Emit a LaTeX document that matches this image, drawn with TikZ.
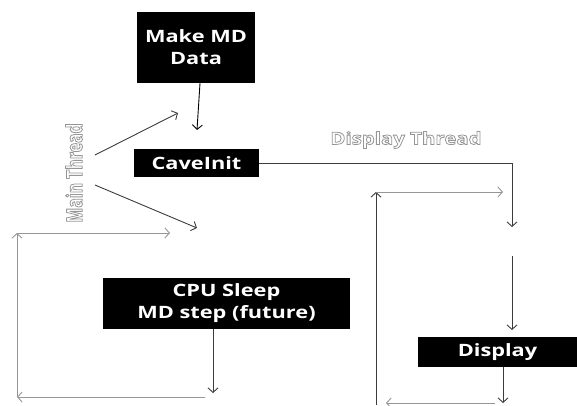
\documentclass[tikz,border=0pt]{standalone}
\usepackage{fontspec}
\setsansfont{Open Sans}
\newfontfamily\boxfont{Open Sans}[FakeStretch=1.28]
\newfontfamily\thrfont{Open Sans}[FakeStretch=1.2]
\newfontfamily\thrrotfont{Open Sans}[FakeStretch=0.72]
\usetikzlibrary{arrows.meta}
\definecolor{linedark}{RGB}{60,60,60}
\definecolor{loopgrey}{RGB}{150,150,150}
\definecolor{threadgrey}{RGB}{150,150,150}
\tikzset{
  blk/.style={rectangle, fill=black, text=white, align=center, inner sep=0pt,
    font=\boxfont\bfseries\fontsize{17}{22}\selectfont},
  arr/.style={-{Straight Barb[length=4.5pt,width=10pt]}, line width=0.9pt, draw=linedark},
  arrk/.style={arr, draw=black},
  looparr/.style={arr, draw=loopgrey},
  thread/.style={text=threadgrey, inner sep=0pt},
}
% outlined lettering (text render mode 1)
\newcommand{\thrtext}[1]{\special{pdf:literal direct 1 Tr 0.8 w}#1\special{pdf:literal direct 0 Tr}}

\begin{document}
\begin{tikzpicture}[x=1pt,y=-1pt]
  \useasboundingbox (0,0) rectangle (577,406);
  % boxes
  \node[blk,minimum width=118pt,minimum height=71pt] (make) at (196,47.5) {Make MD\\Data};
  \node[blk,minimum width=125pt,minimum height=28pt] (cave) at (196.5,163) {CaveInit};
  \node[blk,minimum width=247pt,minimum height=51pt] (cpu) at (226.5,303.5) {CPU Sleep\\MD step (future)};
  \node[blk,minimum width=159pt,minimum height=30pt] (disp) at (497.5,352) {Display};
  % thread labels
  \node[thread,rotate=90,font=\thrrotfont\bfseries\fontsize{22}{22}\selectfont] (mainlbl) at (74,173) {\thrtext{Main Thread}};
  \node[thread,font=\thrfont\bfseries\fontsize{17}{17}\selectfont] (displbl) at (406,140) {\thrtext{Display Thread}};
  % free ends
  \coordinate (mk) at (197,130);
  \coordinate (m1s) at (95,155);
  \coordinate (m1e) at (178,113);
  \coordinate (m2s) at (95,185);
  \coordinate (m2e) at (197,228);
  \coordinate (ci) at (512,163);
  \coordinate (ce) at (512,227);
  \coordinate (d1) at (512,256);
  \coordinate (d2) at (512,330);
  \coordinate (de) at (503,403);
  \coordinate (rb) at (495,403);
  \coordinate (rl) at (386,403);
  \coordinate (rv) at (376,405);
  \coordinate (rt) at (376,192);
  \coordinate (rr) at (503,192);
  \coordinate (ce2) at (213,393);
  \coordinate (lb) at (205,397);
  \coordinate (ll) at (17,397);
  \coordinate (lt) at (17,233);
  \coordinate (lr) at (170,233);
  % main thread
  \draw[arrk] ([xshift=4pt]make.south) -- (mk);
  \draw[arr] (m1s) -- (m1e);
  \draw[arr] (m2s) -- (m2e);
  \draw[arr] ([xshift=-13.5pt]cpu.south) -- (ce2);
  \draw[looparr] (lb) -- (ll);
  \draw[looparr] (ll) -- (lt);
  \draw[looparr] (lt) -- (lr);
  % display thread
  \draw[arr] (cave.east) -- (ci) -- (ce);
  \draw[arr] (d1) -- (d2);
  \draw[arr] ([xshift=5.5pt]disp.south) -- (de);
  \draw[looparr] (rb) -- (rl);
  \draw[arr] (rv) -- (rt);
  \draw[looparr] (rt) -- (rr);
\end{tikzpicture}
\end{document}
